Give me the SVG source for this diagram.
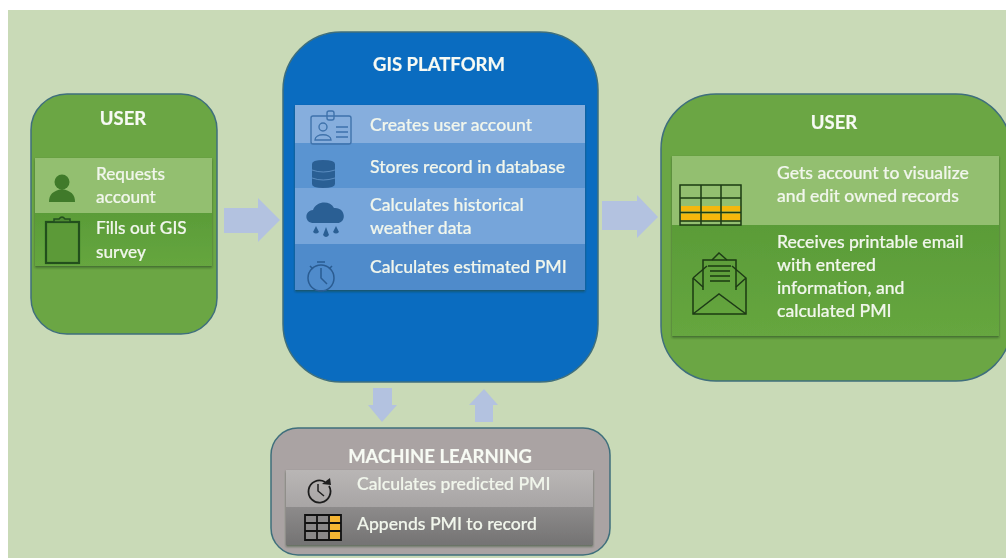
<svg xmlns="http://www.w3.org/2000/svg" width="1006" height="558" viewBox="0 0 1006 558">
<style>
text{font-family:Lato,"Open Sans","Liberation Sans",sans-serif;fill:#f1f6ec;font-size:17.6px;font-weight:500;stroke:#f1f6ec;stroke-width:.2;filter:url(#b)}
.s{font-size:17.2px}
.t{font-size:18.5px;font-weight:700;fill:#f7faf4;text-anchor:middle}
.box{stroke:#3f6f7c;stroke-width:1.5}
.ar{fill:#b3c2e0}
.i{fill:none;stroke:#1d3a16;stroke-width:1.5;filter:url(#b)}
.ib{fill:none;stroke:#3f73ac;stroke-width:1.4;filter:url(#b)}
.ic{fill:none;stroke:#2a5c92;stroke-width:1.5;filter:url(#b)}
.f{fill:#2c5f94;filter:url(#b)}
</style>
<defs>
<filter id="b" x="-10%" y="-10%" width="120%" height="120%"><feGaussianBlur stdDeviation=".4"/></filter>
<filter id="sh" x="-5%" y="-5%" width="110%" height="112%"><feDropShadow dx="0" dy="1.5" stdDeviation="1.2" flood-color="#1c3a20" flood-opacity=".6"/></filter>
<linearGradient id="gg" x1="0" y1="0" x2="0" y2="1"><stop offset="0" stop-color="#5a9c38"/><stop offset="1" stop-color="#66a63f"/></linearGradient>
<linearGradient id="gray1" x1="0" y1="0" x2="0" y2="1"><stop offset="0" stop-color="#b9b6b5"/><stop offset="1" stop-color="#a8a5a5"/></linearGradient>
<linearGradient id="gray2" x1="0" y1="0" x2="0" y2="1"><stop offset="0" stop-color="#8d8b8b"/><stop offset="1" stop-color="#747373"/></linearGradient>
</defs>
<rect width="1006" height="558" fill="#fff"/>
<rect x="8" y="10" width="998" height="548" fill="#c9dab7"/>

<g id="connectors">
<path class="ar" d="M224 208H258V198L280 220L258 242V233H224Z"/>
<path class="ar" d="M602 201H637V195L658 217L637 238V230H602Z"/>
<path class="ar" d="M373 388H392V405H397L382 422L368 405H373Z"/>
<path class="ar" d="M475 422H493V405H498L484 389L469 405H475Z"/>
</g>

<g id="user-left">
<rect class="box" x="31" y="94" width="186" height="240" rx="36" fill="#6ba644"/>
<text class="t" x="123" y="125">USER</text>
<g filter="url(#sh)">
<rect x="35" y="158" width="177" height="55" fill="#93bf70"/>
<rect x="35" y="213" width="177" height="53" fill="url(#gg)"/>
</g>
<text class="s" x="96" y="180">Requests</text><text class="s" x="96" y="203">account</text>
<text class="s" x="96" y="234">Fills out GIS</text><text class="s" x="96" y="258">survey</text>
<circle cx="62" cy="182" r="7.5" fill="#3f7a2a" filter="url(#b)"/>
<path d="M49 202C49 194 53 191 62 189C71 191 75 194 75 202Z" fill="#3f7a2a" filter="url(#b)"/>
<rect x="46" y="222" width="33" height="41" fill="#5b9a38" stroke="#234f1f" stroke-width="2.2" filter="url(#b)"/>
<path d="M54 222V219H59Q62 215 65 219H70V222Z" fill="#4d8b30" stroke="#234f1f" stroke-width="1.5" filter="url(#b)"/>
</g>

<g id="gis-platform">
<rect class="box" x="283" y="32" width="315" height="350" rx="58" fill="#0a6cc0"/>
<text class="t" x="439" y="71">GIS PLATFORM</text>
<g filter="url(#sh)">
<rect x="295" y="105" width="290" height="38" fill="#86aedd"/>
<rect x="295" y="143" width="290" height="45" fill="#5a94d1"/>
<rect x="295" y="188" width="290" height="56" fill="#76a5da"/>
<rect x="295" y="244" width="290" height="46" fill="#4f8bcb"/>
</g>
<text x="370" y="131">Creates user account</text>
<text x="370" y="173">Stores record in database</text>
<text x="370" y="211">Calculates historical</text>
<text x="370" y="234">weather data</text>
<text x="370" y="273">Calculates estimated PMI</text>
<rect class="ib" x="311" y="116" width="40" height="28" rx="2"/>
<rect class="ib" x="327" y="111" width="7" height="9" rx="2"/>
<circle class="ib" cx="323" cy="127" r="4"/>
<path class="ib" d="M315 140C315 133 331 133 331 140Z M336 127H348M336 132H348M336 137H348"/>
<path class="f" d="M312 164Q312 160 323 160Q335 160 335 164V184Q335 188 323 188Q312 188 312 184Z"/>
<path d="M312 170Q323 174 335 170M312 178Q323 182 335 178" fill="none" stroke="#6f9fd2" stroke-width=".7"/>
<path class="f" d="M314 223C304 223 304 211 313 210C316 201 330 200 334 208C346 207 347 223 337 223Z"/>
<path class="f" d="M316 226L319 232Q316 235 313 232ZM326 227L329 235Q326 239 323 235ZM336 226L339 232Q336 235 333 232Z"/>
<circle class="ic" cx="321" cy="278" r="13"/>
<path class="ic" d="M321 268V278L327 284M317 262H325M310 266L313 269M332 266L329 269"/>
</g>

<g id="user-right">
<rect class="box" x="661" y="94" width="350" height="287" rx="55" fill="#6ba644"/>
<text class="t" x="834" y="129">USER</text>
<g filter="url(#sh)">
<rect x="672" y="156" width="327" height="69" fill="#93bf70"/>
<rect x="672" y="225" width="327" height="111" fill="url(#gg)"/>
</g>
<text x="777" y="179">Gets account to visualize</text>
<text x="777" y="202">and edit owned records</text>
<text x="777" y="248">Receives printable email</text>
<text x="777" y="271">with entered</text>
<text x="777" y="294">information, and</text>
<text x="777" y="317">calculated PMI</text>
<rect x="681" y="206" width="60" height="5.5" fill="#f5b70c"/>
<rect x="681" y="213.5" width="60" height="7" fill="#f5b70c"/>
<path class="i" d="M680 185H741V225H680ZM680 198H741M680 212.5H741M680 221H741M701 185V225M721 185V225"/>
<path class="i" d="M693 278V314H746V278L732 266M707 266L693 278ZM693 314L719 294L746 314M693 278L703 287M746 278L736 287M712 260L719 253L727 260"/>
<path class="i" d="M703 290V260H736V290M708 266H731M710 271H730M710 276H730M710 281H730"/>
</g>

<g id="machine-learning">
<rect class="box" x="271" y="428" width="339" height="127" rx="27" fill="#aaa3a3"/>
<text class="t" x="440" y="463">MACHINE  LEARNING</text>
<g filter="url(#sh)">
<rect x="286" y="470" width="307" height="37" fill="url(#gray1)"/>
<rect x="286" y="507" width="307" height="38" fill="url(#gray2)"/>
</g>
<text x="357" y="490">Calculates predicted PMI</text>
<text x="357" y="530">Appends PMI to record</text>
<path d="M329 486A11 11 0 1 1 325 482" fill="none" stroke="#1f1f1f" stroke-width="1.8" filter="url(#b)"/>
<path d="M331 485L322 484L330 478Z" fill="#1f1f1f"/>
<path d="M318 484V491L324 496" fill="none" stroke="#1f1f1f" stroke-width="1.5"/>
<rect x="305" y="515" width="36" height="25" fill="#8a8888"/>
<rect x="330" y="516" width="10" height="24" fill="#f5b533"/>
<path d="M305 515H341V540H305ZM305 523H341M305 531H341M317 515V540M329 515V540" fill="none" stroke="#111" stroke-width="1.8"/>
</g>
</svg>
